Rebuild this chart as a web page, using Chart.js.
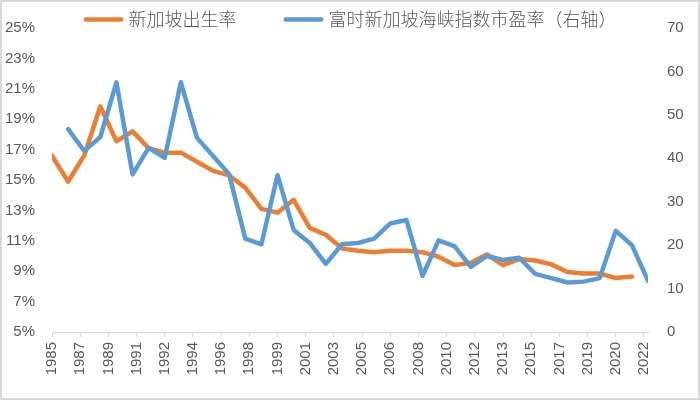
<!DOCTYPE html>
<html>
<head>
<meta charset="utf-8">
<script src="https://cdn.jsdelivr.net/npm/chart.js@4.4.1/dist/chart.umd.min.js"></script>
<style>
html,body{margin:0;padding:0;background:#fff;}
canvas{display:block;}
</style>
</head>
<body>
<canvas id="c" width="700" height="401"></canvas>
<script>
// ---- data ----
const years = [1985,1986,1987,1988,1989,1990,1991,1992,1993,1994,1995,1996,1997,1998,1999,2000,2001,2002,2003,2004,2005,2006,2007,2008,2009,2010,2011,2012,2013,2014,2015,2016,2017,2018,2019,2020,2021,2022];
// 新加坡出生率 (%), left axis
const birthRate = [16.6,14.9,16.6,19.85,17.55,18.2,17.1,16.8,16.8,16.2,15.6,15.3,14.5,13.1,12.85,13.7,11.85,11.4,10.5,10.35,10.25,10.35,10.35,10.25,9.95,9.4,9.55,10.1,9.4,9.8,9.7,9.45,8.95,8.85,8.85,8.55,8.65,null];
// 富时新加坡海峡指数市盈率 (right axis)
const peRatio = [null,46.7,41.7,44.9,57.5,36.3,42.4,40.1,57.5,44.7,40.5,36.3,21.5,20.2,36.1,23.5,20.5,15.7,20.2,20.5,21.5,25.0,25.8,12.9,21.1,19.7,15.0,17.5,16.6,17.1,13.4,12.4,11.4,11.6,12.4,23.3,20.0,11.8];
const seriesNames = ['新加坡出生率','富时新加坡海峡指数市盈率（右轴）'];
const tickLabels = ['1985','1987','1989','1991','1992','1994','1996','1998','1999','2001','2003','2005','2006','2008','2010','2012','2013','2015','2017','2019','2020','2022'];
const tickStep = 1.75; // years between x-axis labels
const leftMin = 5, leftMax = 25, leftStep = 2;
const rightMin = 0, rightMax = 70, rightStep = 10;

// ---- styles ----
const ORANGE = '#ED7D31', BLUE = '#5B9BD5', TXT = '#595959', AXIS = '#D9D9D9';
const tickFont = {family: '"Liberation Sans", Arial, sans-serif', size: 15};

const toPoints = arr => years.map((yr, i) => ({x: yr, y: arr[i]})).filter(p => p.y !== null);

const bgPlugin = {
  id: 'bg',
  beforeDraw(chart) {
    const ctx = chart.ctx;
    ctx.save();
    ctx.fillStyle = '#fff';
    ctx.fillRect(0, 0, chart.width, chart.height);
    ctx.restore();
  },
  afterDraw(chart) {
    const ctx = chart.ctx;
    ctx.save();
    ctx.strokeStyle = AXIS;
    ctx.lineWidth = 2;
    ctx.strokeRect(1, 1, chart.width - 2, chart.height - 3);
    ctx.restore();
  }
};

const legendPlugin = {
  id: 'lineLegend',
  afterDraw(chart) {
    const ctx = chart.ctx;
    ctx.save();
    ctx.font = '300 18px "Noto Sans CJK SC", sans-serif';
    ctx.textBaseline = 'middle';
    const colors = [ORANGE, BLUE];
    const items = seriesNames.map((t, i) => ({text: t, color: colors[i], w: ctx.measureText(t).width}));
    const mark = 40, gapText = 5, gapItems = 47;
    const total = items.reduce((s, it) => s + mark + gapText + it.w, 0) + gapItems * (items.length - 1);
    let x = chart.width / 2 - total / 2;
    const y = 19.5;
    items.forEach(it => {
      ctx.strokeStyle = it.color;
      ctx.lineWidth = 4.5;
      ctx.lineCap = 'round';
      ctx.beginPath();
      ctx.moveTo(x + 2.25, y);
      ctx.lineTo(x + mark - 2.25, y);
      ctx.stroke();
      ctx.fillStyle = TXT;
      ctx.fillText(it.text, x + mark + gapText, y);
      x += mark + gapText + it.w + gapItems;
    });
    ctx.restore();
  }
};

new Chart(document.getElementById('c'), {
  type: 'line',
  data: {
    datasets: [
      {
        label: seriesNames[0],
        data: toPoints(birthRate),
        yAxisID: 'y',
        borderColor: ORANGE,
        backgroundColor: ORANGE,
        borderWidth: 4.5,
        pointRadius: 0,
        tension: 0,
        borderJoinStyle: 'round',
        borderCapStyle: 'round',
        order: 1
      },
      {
        label: seriesNames[1],
        data: toPoints(peRatio),
        yAxisID: 'y1',
        borderColor: BLUE,
        backgroundColor: BLUE,
        borderWidth: 4.5,
        pointRadius: 0,
        tension: 0,
        borderJoinStyle: 'round',
        borderCapStyle: 'round',
        order: 0
      }
    ]
  },
  options: {
    responsive: false,
    animation: false,
    devicePixelRatio: 1,
    layout: {padding: {top: 23, left: 0, right: 0, bottom: 0}},
    plugins: {legend: {display: false}, tooltip: {enabled: false}},
    scales: {
      x: {
        type: 'linear',
        min: years[0],
        max: years[years.length - 1],
        afterBuildTicks(scale) {
          scale.ticks = tickLabels.map((_, i) => ({value: years[0] + i * tickStep}));
        },
        afterFit(scale) { scale.height = 69; },
        ticks: {
          autoSkip: false,
          minRotation: 90,
          maxRotation: 90,
          padding: 5,
          color: TXT,
          font: tickFont,
          callback: (v, i) => tickLabels[i]
        },
        grid: {display: true, drawOnChartArea: false, drawTicks: true, tickLength: 5, color: AXIS, lineWidth: 1},
        border: {display: true, color: AXIS, width: 1}
      },
      y: {
        position: 'left',
        min: leftMin,
        max: leftMax,
        afterFit(scale) { scale.width = 52; },
        ticks: {stepSize: leftStep, padding: 17, color: TXT, font: tickFont, callback: v => v + '%'},
        grid: {display: false, drawTicks: false},
        border: {display: false}
      },
      y1: {
        position: 'right',
        min: rightMin,
        max: rightMax,
        afterFit(scale) { scale.width = 52; },
        ticks: {stepSize: rightStep, padding: 19, color: TXT, font: tickFont},
        grid: {display: false, drawTicks: false},
        border: {display: false}
      }
    }
  },
  plugins: [bgPlugin, legendPlugin]
});
</script>
</body>
</html>
